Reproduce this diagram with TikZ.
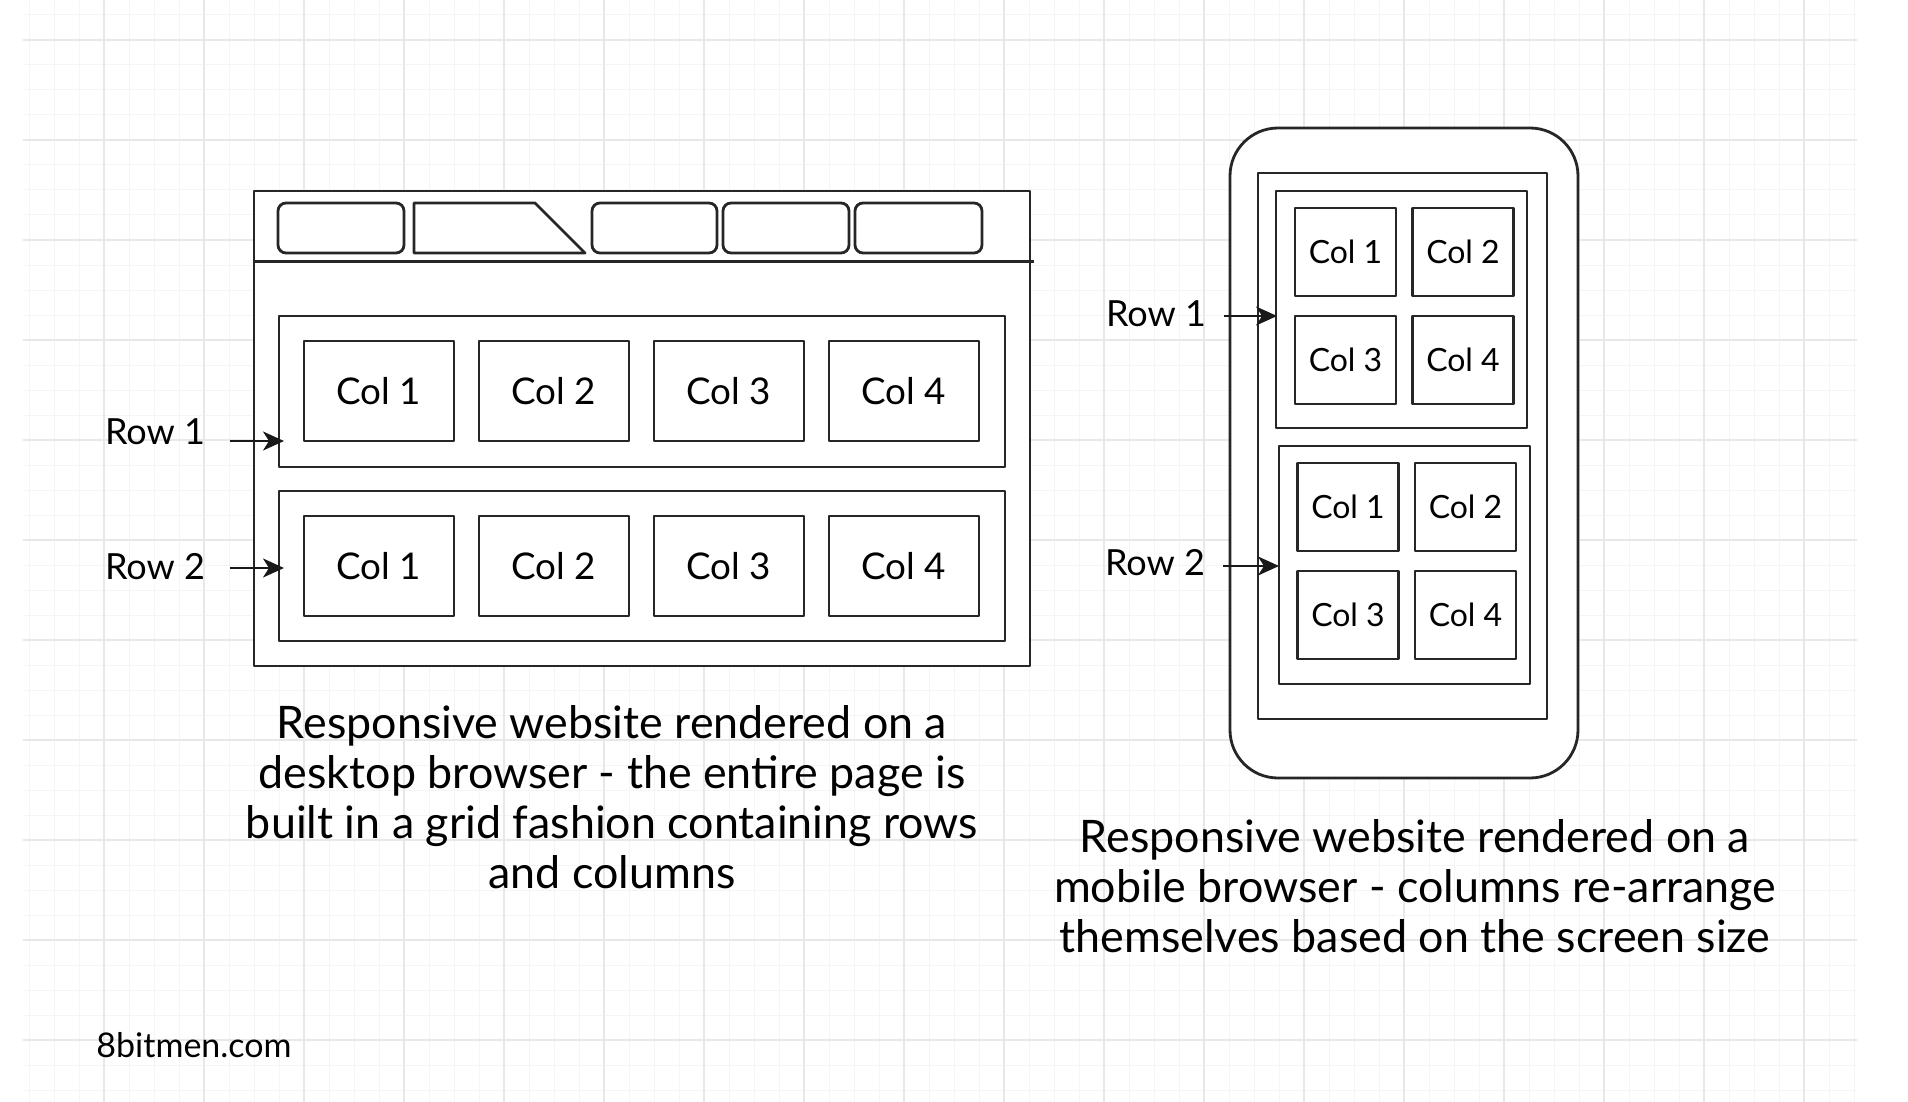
\documentclass[tikz,border=0pt]{standalone}
\usepackage{fontspec}
\setmainfont{Lato}
\usetikzlibrary{arrows.meta}
\begin{document}
\begin{tikzpicture}[x=0.5pt,y=-0.5pt,>={Stealth[length=10.5pt,width=9.5pt,inset=3pt]},line join=round,
	gridminor/.style={black!4,line width=0.5pt},
	gridmajor/.style={black!9,line width=0.6pt},
	boxline/.style={draw=black!85,line width=1.4pt},
	box/.style={boxline,rectangle,inner sep=0pt},
	tab/.style={box,rounded corners=4pt,minimum width=63pt,minimum height=25pt},
	colbox/.style={box,minimum width=75pt,minimum height=50pt,font=\fontsize{18.4}{22}\selectfont},
	mcolbox/.style={box,minimum width=50.5pt,minimum height=44pt,font=\fontsize{16}{19}\selectfont},
	rowlbl/.style={font=\fontsize{18}{22}\selectfont,inner sep=0pt},
	rowarrow/.style={->,line width=1pt,black!90},
	caption/.style={align=center,font=\fontsize{22.4}{25}\selectfont,inner sep=0pt}]
	\fill[white] (0,0) rectangle (1908,1102);
	\useasboundingbox (0,0) rectangle (1908,1102);
	% Lưới nền
	\foreach \gx in {29,54,...,1854} \draw[gridminor] (\gx,0) -- (\gx,1102);
	\foreach \gy in {15,40,...,1090} \draw[gridminor] (23,\gy) -- (1857,\gy);
	\foreach \gx in {104,204,...,1804} \draw[gridmajor] (\gx,0) -- (\gx,1102);
	\foreach \gy in {40,140,...,1040} \draw[gridmajor] (23,\gy) -- (1857,\gy);
	% Desktop
	\node[box,fill=white,minimum width=388pt,minimum height=237.5pt] (browser) at (642,428.5) {};
	\draw[boxline] (browser.north west) ++(0,72) -- ++(781,0);
	\node[tab] (tab1) at (341,228) {};
	\draw[boxline] (414,203) -- (535,203) -- (585,253) -- (414,253) -- cycle;
	\node[tab,minimum width=62.5pt] (tab3) at (654.5,228) {};
	\node[tab] (tab4) at (786,228) {};
	\node[tab,minimum width=63.5pt] (tab5) at (918.5,228) {};
	\node[box,minimum width=363pt,minimum height=75.5pt] (drow1) at (642,391.5) {};
	\node[box,minimum width=363pt,minimum height=75pt] (drow2) at (642,566) {};
	\foreach \i/\cx in {1/379,2/554,3/729,4/904} {
		\node[colbox] (d1c\i) at (\cx,391) {Col \i};
		\node[colbox] (d2c\i) at (\cx,566) {Col \i};
	}
	\node[rowlbl] (dlbl1) at (155,432) {Row 1};
	\node[rowlbl] (dlbl2) at (155,567) {Row 2};
	\coordinate (da1) at (284,441);
	\coordinate (da2) at (284,568);
	\draw[rowarrow] ([xshift=12.5pt]dlbl1.east |- da1) -- (da1);
	\draw[rowarrow] ([xshift=12.5pt]dlbl2.east |- da2) -- (da2);
	% Mobile
	\node[box,fill=white,rounded corners=24pt,minimum width=174pt,minimum height=325pt] (phone) at (1404,453) {};
	\node[box,minimum width=144.5pt,minimum height=273pt] (screen) at (1402.5,446) {};
	\node[box,minimum width=125.5pt,minimum height=118.5pt] (mrow1) at (1401.5,309.5) {};
	\node[box,minimum width=125.5pt,minimum height=119pt] (mrow2) at (1404.5,565) {};
	\node[mcolbox] (m1c1) at (1345.5,252) {Col 1};
	\node[mcolbox] (m1c2) at (1463,252) {Col 2};
	\node[mcolbox] (m1c3) at (1345.5,360) {Col 3};
	\node[mcolbox] (m1c4) at (1463,360) {Col 4};
	\node[mcolbox] (m2c1) at (1348,507) {Col 1};
	\node[mcolbox] (m2c2) at (1465.5,507) {Col 2};
	\node[mcolbox] (m2c3) at (1348,615) {Col 3};
	\node[mcolbox] (m2c4) at (1465.5,615) {Col 4};
	\node[rowlbl] (mlbl1) at (1156,314) {Row 1};
	\node[rowlbl] (mlbl2) at (1155,563) {Row 2};
	\coordinate (ma1) at (1277,316);
	\coordinate (ma2) at (1279,566);
	\draw[rowarrow] ([xshift=9pt]mlbl1.east |- ma1) -- (ma1);
	\draw[rowarrow] ([xshift=9pt]mlbl2.east |- ma2) -- (ma2);
	% Chú thích
	\node[caption] (dcap) at (612,797) {Responsive website rendered on a\\desktop browser - the entire page is\\built in a grid fashion containing rows\\and columns};
	\node[caption] (mcap) at (1415,886) {Responsive website rendered on a\\mobile browser - columns re-arrange\\themselves based on the screen size};
	\node[font=\fontsize{17}{20}\selectfont,inner sep=0pt] (site) at (194,1045) {8bitmen.com};
\end{tikzpicture}
\end{document}
